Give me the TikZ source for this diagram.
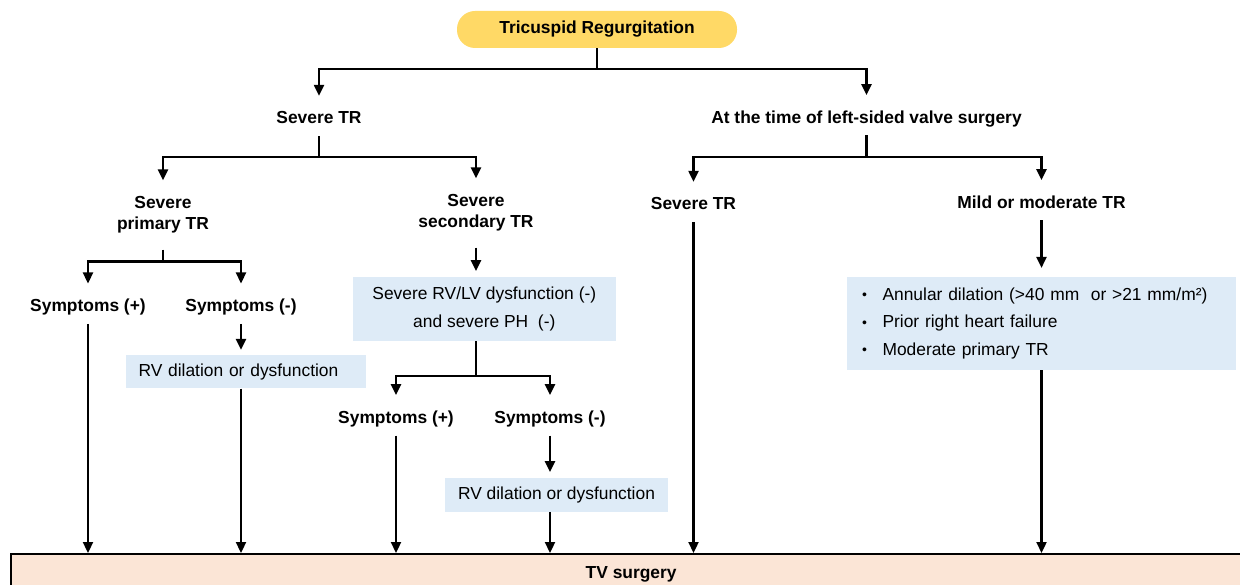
\documentclass[tikz,border=0pt]{standalone}
\usepackage{fontspec}
\setmainfont{Liberation Sans}
\usepackage{xcolor}
\usetikzlibrary{arrows.meta}
\definecolor{gold}{HTML}{FFD966}
\definecolor{paleblue}{HTML}{DEEBF7}
\definecolor{peach}{HTML}{FBE5D6}
\newcommand{\labelfont}{\fontsize{17.4}{21}\selectfont\bfseries}
\newcommand{\boxfont}{\fontsize{17.4}{27.7}\selectfont}
\newcommand{\dotitem}{\makebox[20.5pt][l]{\fontsize{14}{14}\selectfont\raisebox{0.5pt}{•}}}

\begin{document}
\begin{tikzpicture}[x=1pt,y=-1pt,
    link/.style={line width=2.3pt},
    arr/.style={link,-{Triangle[length=11pt,width=10pt]}},
    lbl/.style={font=\labelfont,inner xsep=2pt,inner ysep=0pt,text height=28pt,text depth=12pt,anchor=base},
    lbltwo/.style={font=\labelfont,align=center,inner xsep=2pt,inner ysep=16pt},
    cond/.style={fill=paleblue,font=\boxfont,inner sep=0pt,align=center}]
  \useasboundingbox (0,0) rectangle (1240,585);
  \node[fill=gold,rounded corners=18pt,minimum width=280pt,minimum height=37pt,inner sep=0pt,font=\labelfont] (tr) at (597,29.5) {Tricuspid Regurgitation};
  \node[lbl] (sev) at (319,124) {Severe TR};
  \node[lbl] (lsv) at (866.5,123.3) {At the time of left-sided valve surgery};
  \node[lbltwo] (prim) at (163,215) {Severe\\primary TR};
  \node[lbltwo] (sec) at (476,213) {Severe\\secondary TR};
  \node[lbl] (sevr) at (693.5,210) {Severe TR};
  \node[lbl] (mild) at (1041.5,208.3) {Mild or moderate TR};
  \node[lbl] (sp1) at (88,311.7) {Symptoms (+)};
  \node[lbl] (sm1) at (241,311.7) {Symptoms (-)};
  \node[cond,align=left,text width=215pt,inner xsep=12.5pt,minimum height=33.3pt] (rv1) at (246,371.7) {RV dilation or dysfunction};
  \node[cond,minimum width=263.3pt,minimum height=63.7pt] (secbox) at (484.3,309.2) {Severe RV/LV dysfunction (-)\\and severe PH\ \ (-)};
  \node[lbl] (sp2) at (396,423.3) {Symptoms (+)};
  \node[lbl] (sm2) at (550,423.3) {Symptoms (-)};
  \node[cond,minimum width=223pt,minimum height=33.4pt] (rv2) at (556.5,495) {RV dilation or dysfunction};
  \node[cond,align=left,text width=359pt,inner xsep=15pt,minimum height=93.3pt] (risk) at (1041.5,323.3) {\dotitem Annular dilation (>40 mm\ \ or >21 mm/m²)\\
    \dotitem Prior right heart failure\\
    \dotitem Moderate primary TR};
  \node[fill=peach,draw=black,line width=2.3pt,anchor=north west,minimum width=1240pt,minimum height=40pt,font=\labelfont] (surg) at (10,553) {TV surgery};

  \draw[link] (tr.south) -- ++(0,21) coordinate (j0);
  \draw[arr] (j0) -| (sev.north);
  \draw[arr] (j0) -| (lsv.north);
  \draw[link] (sev.south) -- ++(0,21) coordinate (j1);
  \draw[arr] (j1) -| (prim.north);
  \draw[arr] (j1) -| (sec.north);
  \draw[link] (lsv.south) -- ++(0,21.5) coordinate (j2);
  \draw[arr] (j2) -| (sevr.north);
  \draw[arr] (j2) -| (mild.north);

  \draw[link] (prim.south) -- ++(0,12) coordinate (j3);
  \draw[arr] (j3) -| (sp1.north);
  \draw[arr] (j3) -| (sm1.north);
  \draw[arr] (sp1.south) -- (sp1.south |- surg.north);
  \draw[arr,shorten >=5pt] (sm1.south) -- (sm1.south |- rv1.north);
  \draw[arr] (sm1.south |- rv1.south) -- (sm1.south |- surg.north);

  \draw[arr,shorten >=6pt] (sec.south) -- (sec.south |- secbox.north);
  \draw[link] (sec.south |- secbox.south) -- ++(0,35) coordinate (j4);
  \draw[arr] (j4) -| (sp2.north);
  \draw[arr] (j4) -| (sm2.north);
  \draw[arr] (sp2.south) -- (sp2.south |- surg.north);
  \draw[arr,shorten >=6pt] (sm2.south) -- (sm2.south |- rv2.north);
  \draw[arr] (sm2.south |- rv2.south) -- (sm2.south |- surg.north);

  \draw[arr] (sevr.south) -- (sevr.south |- surg.north);
  \draw[arr,shorten >=8.5pt] (mild.south) -- (mild.south |- risk.north);
  \draw[arr] (mild.south |- risk.south) -- (mild.south |- surg.north);
\end{tikzpicture}
\end{document}
